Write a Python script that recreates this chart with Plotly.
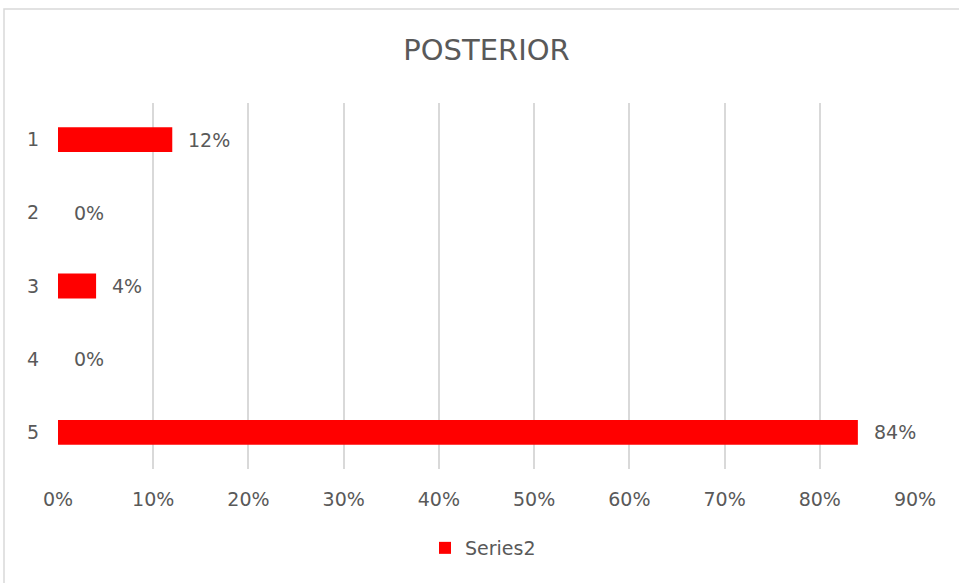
import plotly.graph_objects as go

# Posterior probabilities by category
categories = ["1", "2", "3", "4", "5"]
values = [0.12, 0.00, 0.04, 0.00, 0.84]
labels = ["12%", "0%", "4%", "0%", "84%"]
x_ticks = [0, 0.1, 0.2, 0.3, 0.4, 0.5, 0.6, 0.7, 0.8, 0.9]
x_tick_text = ["0%", "10%", "20%", "30%", "40%", "50%", "60%", "70%", "80%", "90%"]

W, H = 959, 583
L, R, T, B = 58, 44, 103, 114
TEXT = "#595959"
FONT = "DejaVu Sans"

cat_order = categories[::-1]  # first category drawn at the top

fig = go.Figure()
fig.add_trace(go.Bar(
    y=categories,
    x=values,
    orientation="h",
    name="Series2",
    marker=dict(color="#ff0000", line=dict(width=0)),
    width=0.34,
    showlegend=True,
))

# value labels just right of each bar end (category axis positions by index)
for cat, v, lab in zip(categories, values, labels):
    fig.add_annotation(
        x=v, y=cat_order.index(cat), text=lab, showarrow=False,
        xanchor="left", xshift=14,
        font=dict(family=FONT, size=19, color=TEXT),
    )

# chart outline
pw, ph = W - L - R, H - T - B
fig.add_shape(
    type="rect", xref="paper", yref="paper",
    x0=(4 - L) / pw, x1=(W + 10 - L) / pw,
    y0=(H - B - (H + 10)) / ph, y1=(H - B - 9) / ph,
    line=dict(color="#d9d9d9", width=1.5), fillcolor="rgba(0,0,0,0)",
    layer="below",
)

fig.update_layout(
    width=W, height=H,
    margin=dict(l=L, r=R, t=T, b=B),
    paper_bgcolor="white", plot_bgcolor="white",
    title=dict(text="POSTERIOR", x=(L + pw / 2) / W, xanchor="center",
               y=1 - 50 / H, yanchor="middle",
               font=dict(family=FONT, size=29, color=TEXT)),
    font=dict(family=FONT, color=TEXT),
    xaxis=dict(
        range=[0, 0.9], tickvals=x_ticks, ticktext=x_tick_text,
        showgrid=True, gridcolor="#d9d9d9", gridwidth=1.5,
        zeroline=False, showline=False, ticks="",
        tickfont=dict(family=FONT, size=19, color=TEXT),
        ticklabelstandoff=17,
    ),
    yaxis=dict(
        type="category",
        categoryorder="array", categoryarray=cat_order,
        range=[-0.5, len(categories) - 0.5],
        showgrid=False, zeroline=False, showline=False, ticks="",
        tickfont=dict(family=FONT, size=19, color=TEXT),
        ticklabelstandoff=18,
    ),
    legend=dict(orientation="h", x=(425 - L) / pw, xanchor="left",
                y=-(548 - (H - B)) / ph, yanchor="middle",
                font=dict(family=FONT, size=19, color=TEXT),
                itemwidth=30),
    bargap=0.66,
)

fig.write_html("out.html")
